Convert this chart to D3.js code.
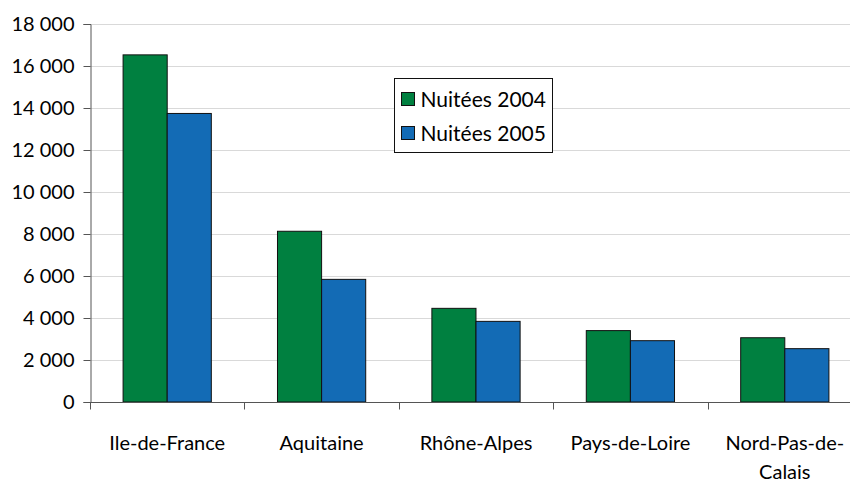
<!DOCTYPE html>
<html>
<head>
<meta charset="utf-8">
<script src="https://cdn.jsdelivr.net/npm/d3@7"></script>
<style>
  body { margin: 0; background: #fff; }
  text { font-family: Lato, "Open Sans", sans-serif; fill: #000; }
</style>
</head>
<body>
<div id="chart"></div>
<script>
// data
var regions = ["Ile-de-France", "Aquitaine", "Rhône-Alpes", "Pays-de-Loire", "Nord-Pas-de-Calais"];
var labelLines = [["Ile-de-France"], ["Aquitaine"], ["Rhône-Alpes"], ["Pays-de-Loire"], ["Nord-Pas-de-", "Calais"]];
var nuitees2004 = [16530, 8130, 4460, 3400, 3060];
var nuitees2005 = [13740, 5840, 3840, 2920, 2540];
var seriesNames = ["Nuitées 2004", "Nuitées 2005"];
var seriesColors = ["#008040", "#136bb5"];
var yTicks = [0, 2000, 4000, 6000, 8000, 10000, 12000, 14000, 16000, 18000];

var W = 850, H = 483;
var margin = {top: 24, right: -12, bottom: 81, left: 90};
var width = W - margin.left - margin.right,
    height = H - margin.top - margin.bottom;

var svg = d3.select("#chart").append("svg")
    .attr("width", W)
    .attr("height", H);

var g = svg.append("g")
    .attr("transform", "translate(" + margin.left + "," + margin.top + ")");

var x = d3.scaleBand().domain(regions).range([0, width]).paddingInner(0).paddingOuter(0);
var xs = d3.scaleBand().domain(seriesNames).range([0, x.bandwidth()]).paddingInner(0).paddingOuter(0.75);
var y = d3.scaleLinear().domain([0, 18000]).range([height, 0]);

var fr = d3.formatLocale({decimal: ",", thousands: " ", grouping: [3], currency: ["", " €"]});
var fmt = fr.format(",d");

// grid
g.append("g")
  .selectAll("line")
  .data(yTicks.slice(1))
  .enter().append("line")
    .attr("x1", 0).attr("x2", width)
    .attr("y1", function(d) { return Math.round(y(d)) + 0.5; })
    .attr("y2", function(d) { return Math.round(y(d)) + 0.5; })
    .attr("stroke", "#d9d9d9")
    .attr("stroke-width", 1);

// bars
var groups = g.selectAll(".grp")
  .data(regions)
  .enter().append("g")
    .attr("transform", function(d) { return "translate(" + x(d) + ",0)"; });

groups.selectAll("rect")
  .data(function(d, i) { return [{s: 0, v: nuitees2004[i]}, {s: 1, v: nuitees2005[i]}]; })
  .enter().append("rect")
    .attr("x", function(d) { return xs(seriesNames[d.s]); })
    .attr("y", function(d) { return y(d.v); })
    .attr("width", xs.bandwidth())
    .attr("height", function(d) { return height - y(d.v); })
    .attr("fill", function(d) { return seriesColors[d.s]; })
    .attr("stroke", "#111")
    .attr("stroke-width", 1);

// y axis
var yAxis = g.append("g")
    .attr("transform", "translate(0.5,0)")
    .call(d3.axisLeft(y).tickValues(yTicks).tickFormat(fmt).tickSize(7).tickPadding(9));
yAxis.select(".domain").attr("stroke", "#555");
yAxis.selectAll(".tick line").attr("stroke", "#555");
yAxis.selectAll("text").style("font-size", "20px");

// x axis
var tickPos = regions.map(function(d) { return x(d); }).concat([width]);
var xAxis = g.append("g")
    .attr("transform", "translate(0," + (Math.round(height) + 0.5) + ")");
xAxis.append("line")
    .attr("x1", 0).attr("x2", width)
    .attr("stroke", "#555");
xAxis.selectAll(".tk")
  .data(tickPos)
  .enter().append("line")
    .attr("x1", function(d) { return Math.round(d) + 0.5; })
    .attr("x2", function(d) { return Math.round(d) + 0.5; })
    .attr("y1", 0).attr("y2", 7)
    .attr("stroke", "#555");

var labels = xAxis.selectAll(".lbl")
  .data(regions)
  .enter().append("text")
    .attr("text-anchor", "middle")
    .style("font-size", "20px")
    .attr("transform", function(d) { return "translate(" + (x(d) + x.bandwidth() / 2) + ",47)"; });
labels.selectAll("tspan")
  .data(function(d, i) { return labelLines[i]; })
  .enter().append("tspan")
    .attr("x", 0)
    .attr("dy", function(d, i) { return i === 0 ? 0 : 29; })
    .text(function(d) { return d; });

// legend
var lg = svg.append("g").attr("transform", "translate(394.5,78.5)");
lg.append("rect")
    .attr("width", 158).attr("height", 74)
    .attr("fill", "#fff").attr("stroke", "#111");
var items = lg.selectAll(".it")
  .data(seriesNames)
  .enter().append("g")
    .attr("transform", function(d, i) { return "translate(7," + (14 + i * 34) + ")"; });
items.append("rect")
    .attr("width", 13).attr("height", 13)
    .attr("fill", function(d, i) { return seriesColors[i]; })
    .attr("stroke", "#111");
items.append("text")
    .attr("x", 19).attr("y", 14)
    .style("font-size", "21px")
    .text(function(d) { return d; });
</script>
</body>
</html>
